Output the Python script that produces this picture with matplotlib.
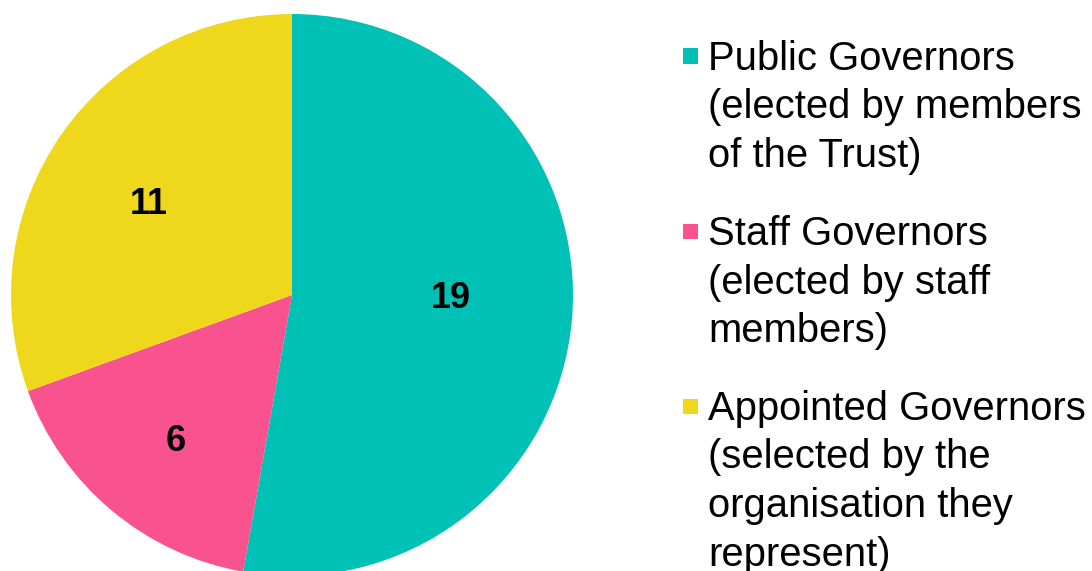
import numpy as np
import matplotlib
matplotlib.use("Agg")
import matplotlib.pyplot as plt
from matplotlib.patches import Rectangle

plt.rcParams["font.family"] = ["Liberation Sans", "DejaVu Sans"]

# ── data ─────────────────────────────────────────────────────────────────────
labels = [
    "Public Governors\n(elected by members\nof the Trust)",
    "Staff Governors\n(elected by staff\nmembers)",
    "Appointed Governors\n(selected by the\norganisation they\nrepresent)",
]
counts = [19, 6, 11]
colors = ["#00C1B5", "#F8528F", "#EFD81C"]

# ── layout (pixels) ──────────────────────────────────────────────────────────
W, H = 1092, 571
fig = plt.figure(figsize=(W / 100, H / 100), dpi=100)

# pie: centre (292, 295), radius 281
ax = fig.add_axes([11 / W, (H - 295 - 281) / H, 562 / W, 562 / H])
wedges, _ = ax.pie(counts, colors=colors, startangle=90, counterclock=False,
                   wedgeprops=dict(linewidth=0))
ax.set_xlim(-1, 1); ax.set_ylim(-1, 1)
ax.set_aspect("equal")

# value labels: distance from centre and small angle nudge per wedge
label_r = [0.565, 0.664, 0.605]
label_dtheta = [3.9, 1.5, 2.7]
for w, n, r, dt in zip(wedges, counts, label_r, label_dtheta):
    mid = np.deg2rad((w.theta1 + w.theta2) / 2 + dt)
    ax.text(r * np.cos(mid), r * np.sin(mid), str(n), ha="center", va="center",
            fontsize=26, fontweight="bold", color="black")

# legend drawn by hand so the square sits on the first line
sq = 15
for i, (lab, col) in enumerate(zip(labels, colors)):
    top = 40 + 175 * i
    cy = 56 + 175 * i
    fig.add_artist(Rectangle((683 / W, (H - cy - sq / 2) / H), sq / W, sq / H,
                             transform=fig.transFigure, color=col, lw=0))
    fig.text(708 / W, (H - top) / H, lab, ha="left", va="top",
             fontsize=28.8, linespacing=1.35, color="black")

fig.savefig("out.png", dpi=100)
